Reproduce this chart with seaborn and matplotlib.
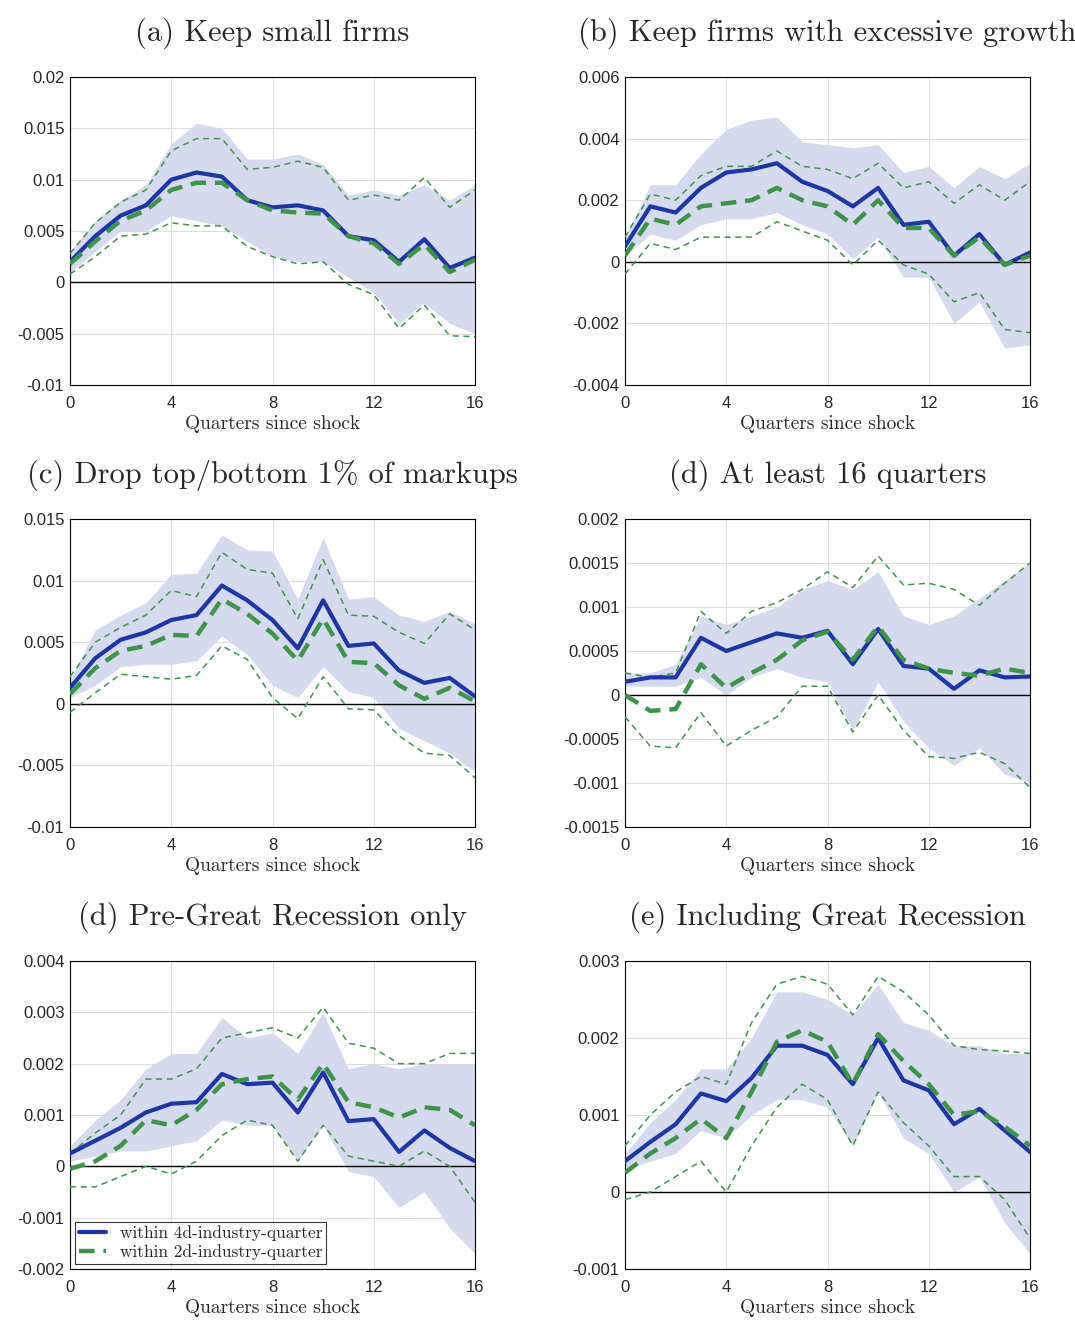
import numpy as np
import pandas as pd
import matplotlib
matplotlib.use("Agg")
import matplotlib.pyplot as plt
from matplotlib.ticker import FormatStrFormatter
import seaborn as sns

quarters = list(range(17))

titles = ["(a) Keep small firms", "(b) Keep firms with excessive growth",
          "(c) Drop top/bottom 1% of markups", "(d) At least 16 quarters",
          "(d) Pre-Great Recession only", "(e) Including Great Recession"]

ylims = [(-0.01, 0.02), (-0.004, 0.006), (-0.01, 0.015),
         (-0.0015, 0.002), (-0.002, 0.004), (-0.001, 0.003)]
ysteps = [0.005, 0.002, 0.005, 0.0005, 0.001, 0.001]

# blue: within 4d-industry-quarter; band = its confidence interval
blue = [
    [0.002, 0.0045, 0.0065, 0.0075, 0.010, 0.0107, 0.0103, 0.008, 0.0073, 0.0075, 0.007, 0.0045, 0.0041, 0.002, 0.0042, 0.0014, 0.0024],
    [0.0005, 0.0018, 0.0016, 0.0024, 0.0029, 0.003, 0.0032, 0.0026, 0.0023, 0.0018, 0.0024, 0.0012, 0.0013, 0.0002, 0.0009, -0.0001, 0.0003],
    [0.0013, 0.0037, 0.0052, 0.0058, 0.0068, 0.0072, 0.0096, 0.0084, 0.0068, 0.0045, 0.0084, 0.0047, 0.0049, 0.0027, 0.0017, 0.0021, 0.0006],
    [0.00015, 0.0002, 0.0002, 0.00065, 0.0005, 0.0006, 0.0007, 0.00065, 0.00073, 0.00035, 0.00075, 0.00033, 0.0003, 0.00007, 0.00028, 0.0002, 0.00021],
    [0.00025, 0.0005, 0.00075, 0.00105, 0.00122, 0.00125, 0.0018, 0.0016, 0.00163, 0.00105, 0.00183, 0.00088, 0.00092, 0.00028, 0.0007, 0.00036, 0.0001],
    [0.0004, 0.00065, 0.00088, 0.00128, 0.00118, 0.00148, 0.0019, 0.0019, 0.00178, 0.0014, 0.002, 0.00145, 0.00132, 0.00088, 0.00108, 0.0008, 0.00052],
]
band_hi = [
    [0.003, 0.006, 0.008, 0.0095, 0.0135, 0.0155, 0.015, 0.012, 0.012, 0.0125, 0.0115, 0.0085, 0.009, 0.0085, 0.0095, 0.008, 0.0095],
    [0.0008, 0.0025, 0.0025, 0.0035, 0.0043, 0.0046, 0.0047, 0.0039, 0.0038, 0.0037, 0.0038, 0.0029, 0.0031, 0.0024, 0.0031, 0.0027, 0.0032],
    [0.002, 0.006, 0.0072, 0.0082, 0.0105, 0.0106, 0.0137, 0.0125, 0.0124, 0.0085, 0.0135, 0.0085, 0.0087, 0.0072, 0.0067, 0.0075, 0.0065],
    [0.00025, 0.00025, 0.00035, 0.0009, 0.0008, 0.0009, 0.001, 0.0012, 0.0013, 0.0012, 0.0014, 0.0009, 0.0008, 0.0009, 0.0011, 0.0013, 0.0015],
    [0.0004, 0.0009, 0.0013, 0.0019, 0.0022, 0.0022, 0.0029, 0.0025, 0.0026, 0.0022, 0.003, 0.0019, 0.002, 0.0019, 0.002, 0.002, 0.002],
    [0.0005, 0.0009, 0.0012, 0.0016, 0.0016, 0.002, 0.0026, 0.0026, 0.0025, 0.0023, 0.0027, 0.0022, 0.0021, 0.0019, 0.0019, 0.0018, 0.0018],
]
band_lo = [
    [0.001, 0.003, 0.005, 0.005, 0.0065, 0.006, 0.0055, 0.004, 0.0025, 0.002, 0.002, 0.0005, -0.001, -0.004, -0.002, -0.004, -0.005],
    [0.0002, 0.0009, 0.0007, 0.0012, 0.0014, 0.0014, 0.0016, 0.0012, 0.0009, 0.0001, 0.0008, -0.0005, -0.0005, -0.002, -0.0013, -0.0028, -0.0027],
    [0.0005, 0.0015, 0.003, 0.0032, 0.0032, 0.0035, 0.0055, 0.004, 0.0015, 0.0005, 0.003, 0.001, 0.0005, -0.002, -0.003, -0.004, -0.0055],
    [0.0001, 0.0001, 0.0001, 0.0002, 0.0, 0.0002, 0.0003, 0.0002, 0.00015, -0.0004, 0.00015, -0.0003, -0.0006, -0.0008, -0.0006, -0.0009, -0.001],
    [0.0001, 0.0002, 0.0003, 0.0003, 0.0004, 0.0005, 0.0009, 0.0008, 0.0008, 0.0001, 0.0008, -0.0001, -0.0002, -0.0008, -0.0005, -0.0012, -0.0017],
    [0.0003, 0.0004, 0.0005, 0.0008, 0.0007, 0.001, 0.0012, 0.0012, 0.0011, 0.0006, 0.0013, 0.0007, 0.0005, 0.0, 0.0002, -0.0004, -0.0008],
]
# green: within 2d-industry-quarter, with its interval as thin dashes
green = [
    [0.0018, 0.004, 0.006, 0.007, 0.009, 0.0097, 0.0097, 0.008, 0.007, 0.0068, 0.0067, 0.0045, 0.0038, 0.0018, 0.0037, 0.001, 0.0022],
    [0.0002, 0.0014, 0.0012, 0.0018, 0.0019, 0.002, 0.0024, 0.002, 0.0018, 0.0012, 0.002, 0.0011, 0.0011, 0.0002, 0.0008, -0.0001, 0.0002],
    [0.0008, 0.0029, 0.0043, 0.0047, 0.0056, 0.0055, 0.0085, 0.0073, 0.0057, 0.0035, 0.0069, 0.0034, 0.0033, 0.0015, 0.0004, 0.0013, 0.0002],
    [0.0, -0.00018, -0.00016, 0.00035, 0.00008, 0.00025, 0.0004, 0.00062, 0.00072, 0.0004, 0.00078, 0.0004, 0.0003, 0.00025, 0.00022, 0.0003, 0.00025],
    [-0.00005, 0.0001, 0.0004, 0.0009, 0.0008, 0.0011, 0.0016, 0.0017, 0.00175, 0.0013, 0.002, 0.00125, 0.00115, 0.00095, 0.00115, 0.0011, 0.0008],
    [0.00025, 0.0005, 0.0007, 0.00095, 0.0007, 0.0013, 0.00195, 0.0021, 0.00195, 0.0014, 0.00205, 0.0017, 0.0014, 0.001, 0.00105, 0.00085, 0.0006],
]
green_hi = [
    [0.0028, 0.0058, 0.0078, 0.009, 0.0128, 0.014, 0.014, 0.011, 0.0112, 0.0118, 0.0112, 0.008, 0.0085, 0.008, 0.0102, 0.0073, 0.009],
    [0.0008, 0.0022, 0.002, 0.0028, 0.0031, 0.0031, 0.0036, 0.0031, 0.003, 0.0027, 0.0032, 0.0024, 0.0026, 0.0019, 0.0025, 0.002, 0.0026],
    [0.0022, 0.005, 0.0062, 0.0072, 0.0092, 0.0087, 0.0123, 0.0109, 0.0106, 0.0069, 0.0117, 0.0072, 0.0071, 0.0058, 0.0049, 0.0073, 0.006],
    [0.00025, 0.0002, 0.00025, 0.00095, 0.0007, 0.00095, 0.00105, 0.0012, 0.0014, 0.00122, 0.00158, 0.00125, 0.00127, 0.0012, 0.00102, 0.00127, 0.0015],
    [0.00025, 0.00065, 0.001, 0.0017, 0.0017, 0.0019, 0.0025, 0.0026, 0.0027, 0.0025, 0.0031, 0.0024, 0.0023, 0.002, 0.002, 0.0022, 0.0022],
    [0.0006, 0.001, 0.0013, 0.0015, 0.0014, 0.0022, 0.0027, 0.0028, 0.0027, 0.0023, 0.0028, 0.0026, 0.0023, 0.0019, 0.00185, 0.00183, 0.0018],
]
green_lo = [
    [0.0008, 0.0025, 0.0045, 0.0047, 0.0058, 0.0055, 0.0055, 0.0035, 0.0025, 0.0018, 0.002, -0.0002, -0.0012, -0.0045, -0.0022, -0.0052, -0.0053],
    [-0.0004, 0.0006, 0.0004, 0.0008, 0.0008, 0.0008, 0.0013, 0.001, 0.0007, -0.0001, 0.0007, -0.0001, -0.0004, -0.0013, -0.001, -0.0022, -0.0023],
    [-0.0007, 0.0009, 0.0024, 0.0022, 0.002, 0.0023, 0.0047, 0.0036, 0.0005, -0.0012, 0.0022, -0.0004, -0.0005, -0.0026, -0.004, -0.0042, -0.006],
    [-0.00025, -0.00058, -0.0006, -0.0002, -0.00058, -0.0004, -0.00025, 0.0001, 0.0001, -0.00042, 0.0, -0.0004, -0.0007, -0.00072, -0.00065, -0.00078, -0.00105],
    [-0.0004, -0.0004, -0.0002, 0.0, -0.00015, 0.0001, 0.0006, 0.0009, 0.0008, 0.0001, 0.0008, 0.0002, 0.0001, 0.0, 0.0003, 0.0, -0.0007],
    [-0.0001, 0.0, 0.0002, 0.0004, 0.0, 0.0006, 0.0011, 0.0014, 0.0012, 0.0006, 0.0013, 0.0009, 0.0006, 0.0002, 0.0002, -0.0001, -0.0006],
]

BLUE = "#1c36a8"
GREEN = "#3b9448"
BAND = "#d6daef"
SERIF = ["cmr10", "DejaVu Serif"]


def main():
    sns.set_theme(style="white")
    plt.rcParams['font.family'] = ['Liberation Sans', 'DejaVu Sans']
    plt.rcParams['axes.unicode_minus'] = False
    fig = plt.figure(figsize=(10.75, 13.21), dpi=100)

    lefts = [70, 625]
    tops = [77, 519, 961]
    W, H = 1075, 1321
    aw, ah = 405, 308

    for i in range(6):
        r, c = divmod(i, 2)
        ax = fig.add_axes([lefts[c] / W, 1 - (tops[r] + ah) / H, aw / W, ah / H])
        df = pd.DataFrame({"q": quarters, "blue": blue[i], "green": green[i],
                           "ghi": green_hi[i], "glo": green_lo[i]})
        ax.fill_between(quarters, band_lo[i], band_hi[i], color=BAND, lw=0, zorder=1)
        ax.axhline(0, color="black", lw=1, zorder=2)
        sns.lineplot(data=df, x="q", y="ghi", ax=ax, color=GREEN, lw=1.1,
                     linestyle=(0, (4, 3)), zorder=3)
        sns.lineplot(data=df, x="q", y="glo", ax=ax, color=GREEN, lw=1.1,
                     linestyle=(0, (4, 3)), zorder=3)
        sns.lineplot(data=df, x="q", y="blue", ax=ax, color=BLUE, lw=3,
                     zorder=4, label="within 4d-industry-quarter")
        sns.lineplot(data=df, x="q", y="green", ax=ax, color=GREEN, lw=3.2,
                     linestyle=(0, (3.5, 2)), zorder=5, label="within 2d-industry-quarter")

        lo, hi = ylims[i]
        ax.set_xlim(0, 16)
        ax.set_ylim(lo, hi)
        ax.set_xticks([0, 4, 8, 12, 16])
        ax.set_yticks(np.arange(lo, hi + ysteps[i] / 2, ysteps[i]))
        ax.yaxis.set_major_formatter(FormatStrFormatter('%g'))
        ax.tick_params(labelsize=12, length=0)
        ax.tick_params(axis="x", pad=8)
        ax.tick_params(axis="y", pad=4)
        ax.grid(True, color="#dddddd", lw=0.8)
        for s in ax.spines.values():
            s.set_color("black")
            s.set_linewidth(0.8)
        ax.set_ylabel("")
        ax.set_xlabel("Quarters since shock", family=SERIF, fontsize=14, labelpad=3)
        ax.set_title(titles[i], family=SERIF, fontsize=22, pad=26)
        if i == 4:
            handles, labels = ax.get_legend_handles_labels()
            leg = ax.legend(handles, labels, loc="lower left", frameon=True, fancybox=False,
                            borderpad=0.2, handlelength=1.6, borderaxespad=0.3,
                            labelspacing=0.2, prop={"family": SERIF, "size": 12.5})
            leg.get_frame().set_edgecolor("black")
            leg.get_frame().set_linewidth(0.8)
        else:
            ax.get_legend().remove()

    fig.savefig("out.png", dpi=100)


if __name__ == "__main__":
    main()
